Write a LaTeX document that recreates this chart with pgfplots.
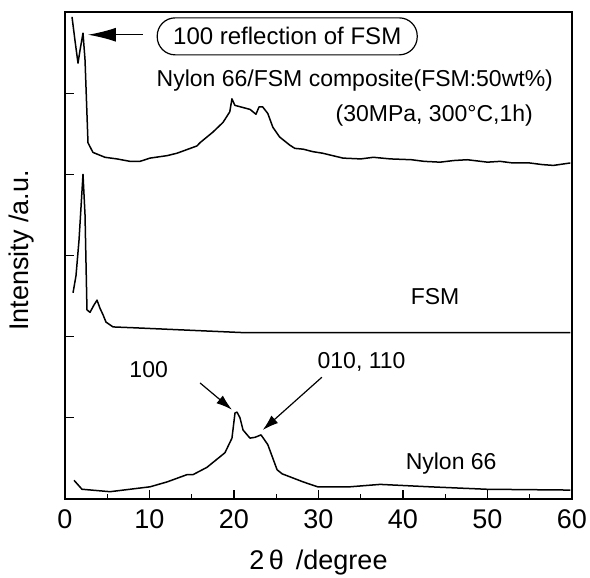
\documentclass[border=0pt]{standalone}
\usepackage{fontspec}
\setmainfont{Liberation Sans}
\usepackage{pgfplots}
\pgfplotsset{compat=1.18}
\usetikzlibrary{arrows.meta}

\begin{document}
\begin{tikzpicture}
\useasboundingbox (-32.5pt,-39.5pt) rectangle (262.5pt,249.5pt);
\begin{axis}[
  width=253.5pt, height=243.5pt, scale only axis,
  xmin=0, xmax=60, ymin=0, ymax=6,
  xtick={0,10,...,60}, minor xtick={5,15,...,55},
  ytick={0,1,...,6}, yticklabels={},
  xtick pos=bottom, ytick pos=left, tick align=inside,
  major tick length=4.5pt, minor tick length=2.5pt,
  axis line style={line width=0.8pt},
  every tick/.style={line width=0.6pt, black},
  /pgf/number format/assume math mode=true,
  xticklabel style={font=\fontsize{13.5}{15}\selectfont, yshift=-2pt},
  xlabel={2\,θ \,/degree},
  ylabel={Intensity /a.u.},
  label style={font=\fontsize{13.5}{15}\selectfont},
  xlabel style={at={(axis description cs:0.5,-0.131)}, anchor=center},
  ylabel style={at={(axis description cs:-0.085,0.51)}, anchor=center},
  clip=false,
]
% Nylon 66/FSM composite
\addplot[black, line width=0.75pt, line join=round, no marks] coordinates {
  (0.83,5.94)(1.18,5.65)(1.54,5.37)(1.78,5.53)(2.13,5.74)(2.37,5.41)
  (2.72,4.39)(2.96,4.34)(3.31,4.27)(4.73,4.21)(6.15,4.19)(7.69,4.16)
  (8.88,4.16)(10.06,4.20)(12.07,4.23)(13.25,4.26)(15.62,4.35)(15.98,4.39)
  (17.5,4.52)(18.7,4.64)(19.5,4.77)(19.76,4.93)(20.1,4.85)(21.9,4.80)
  (22.6,4.74)(22.96,4.83)(23.4,4.83)(24.0,4.75)(24.6,4.58)(25.4,4.46)
  (26.6,4.36)(27.2,4.32)(28.2,4.31)(29.3,4.28)(30.5,4.26)(32.9,4.20)
  (35.0,4.19)(36.5,4.21)(38.5,4.19)(41.0,4.18)(42.5,4.16)(44.4,4.15)
  (46.0,4.17)(47.6,4.18)(50.0,4.15)(51.5,4.16)(53.0,4.14)(55.0,4.14)
  (56.5,4.12)(57.8,4.11)(59.8,4.14)};
% FSM
\addplot[black, line width=0.75pt, line join=round, no marks] coordinates {
  (0.95,2.54)(1.30,2.75)(1.66,3.19)(2.13,4.00)(2.37,3.50)(2.60,2.33)
  (2.96,2.30)(3.43,2.39)(3.79,2.45)(4.14,2.35)(4.50,2.27)(4.85,2.18)
  (5.68,2.12)(8.05,2.11)(21.07,2.05)(25.8,2.05)(59.8,2.05)};
% Nylon 66
\addplot[black, line width=0.75pt, line join=round, no marks] coordinates {
  (1.07,0.23)(2.01,0.12)(5.33,0.09)(10.06,0.15)(12.07,0.21)(14.44,0.30)
  (15.15,0.30)(16.8,0.39)(18.93,0.57)(19.76,0.75)(20.12,1.06)(20.36,1.07)
  (20.71,1.00)(21.07,0.85)(21.89,0.75)(22.49,0.76)(23.2,0.79)(24.0,0.67)
  (25.1,0.36)(25.7,0.31)(28.2,0.21)(29.9,0.15)(33.7,0.15)(37.3,0.18)
  (43.2,0.15)(49.9,0.12)(59.8,0.11)};

\def\lbl{\fontsize{11.5}{13}\selectfont}
\draw[line width=0.6pt, -{Latex[length=14pt,width=7pt]}]
  (axis cs:9.23,5.72) -- (axis cs:2.72,5.72);
\node[draw, line width=0.6pt, rounded corners=9pt, minimum width=130pt,
  minimum height=18.5pt, inner sep=0pt, font=\fontsize{12}{14}\selectfont]
  at (axis cs:26.3,5.70) {100 reflection of FSM};
\node[font=\lbl] at (axis cs:34.3,5.16) {Nylon 66/FSM composite(FSM:50wt\%)};
\node[font=\lbl, anchor=east] at (axis cs:56.2,4.73) {(30MPa, 300°C,1h)};
\node[font=\lbl] at (axis cs:43.8,2.49) {FSM};
\node[font=\lbl] at (axis cs:45.7,0.44) {Nylon 66};
\node[font=\lbl] at (axis cs:9.9,1.59) {100};
\node[font=\lbl] at (axis cs:35.1,1.69) {010, 110};
\draw[line width=0.6pt, -{Latex[length=8pt,width=5pt]}]
  (axis cs:15.98,1.43) -- (axis cs:19.76,1.10);
\draw[line width=0.6pt, -{Latex[length=8pt,width=5pt]}]
  (axis cs:30.4,1.50) -- (axis cs:23.4,0.85);
\end{axis}
\end{tikzpicture}
\end{document}
